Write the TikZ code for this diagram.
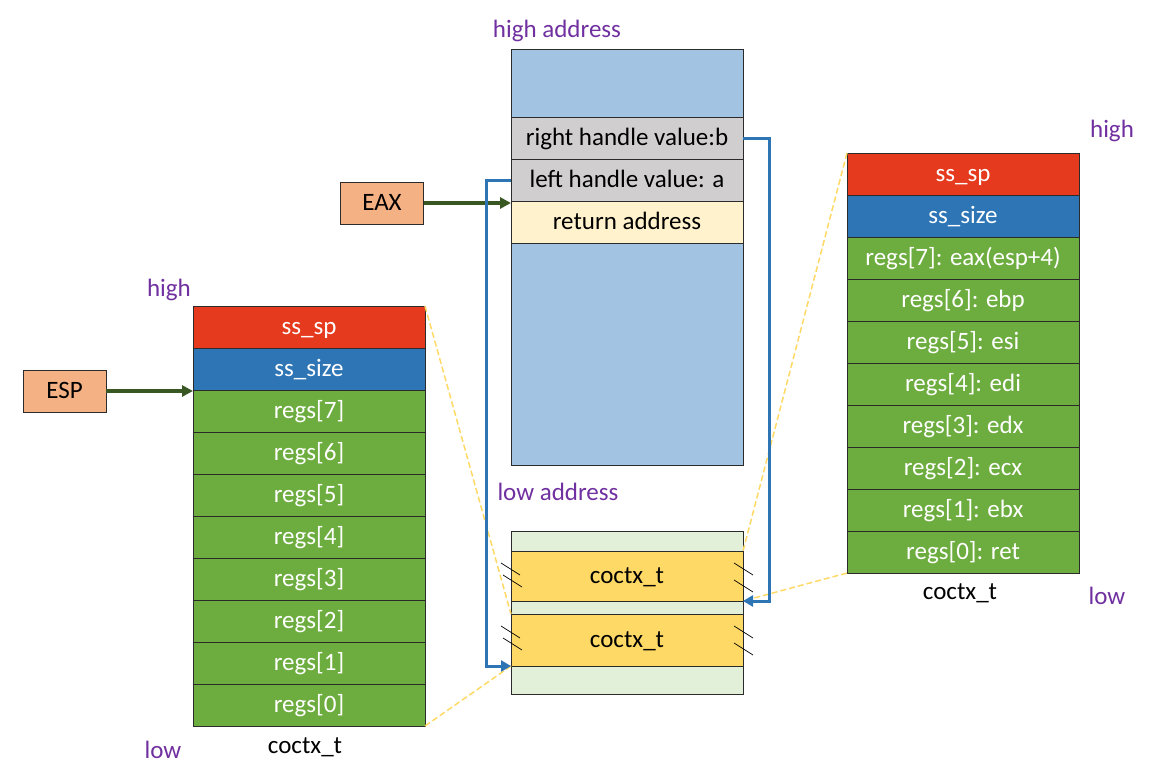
\documentclass[tikz,border=0pt]{standalone}
\usepackage{fontspec}
\setmainfont{Carlito}
\usetikzlibrary{arrows.meta}
\definecolor{cred}{HTML}{E53A1E}
\definecolor{cblue}{HTML}{2E75B6}
\definecolor{cgreen}{HTML}{6DAD3F}
\definecolor{cgray}{HTML}{D0CECE}
\definecolor{ccream}{HTML}{FFF2CC}
\definecolor{cbg}{HTML}{A2C3E2}
\definecolor{clgreen}{HTML}{E2F0D9}
\definecolor{cyellow}{HTML}{FFD966}
\definecolor{corange}{HTML}{F4B183}
\definecolor{carrow}{HTML}{385723}
\definecolor{cpurple}{HTML}{7030A0}
\definecolor{cedge}{HTML}{2B2B2B}
\tikzset{
  cell/.style={draw=cedge, line width=0.8pt, inner sep=0pt, outer sep=0pt, anchor=north west,
    minimum width=232pt, minimum height=42pt, text height=17pt, text depth=2pt,
    font=\fontsize{25}{30}\selectfont},
  wcell/.style={cell, text=white},
  lbl/.style={font=\fontsize{25}{30}\selectfont},
  plbl/.style={lbl, text=cpurple},
  regbox/.style={draw=cedge, line width=0.8pt, fill=corange, inner sep=0pt, outer sep=0pt,
    minimum width=83pt, minimum height=42pt, text height=17pt, text depth=2pt,
    font=\fontsize{25}{30}\selectfont},
  greenarrow/.style={draw=carrow, line width=3.5pt, -{Triangle[length=11pt,width=11pt]}},
  bluearrow/.style={draw=cblue, line width=3pt, -{Triangle[length=10pt,width=11pt]}},
  zoomline/.style={draw=cyellow, line width=1.5pt, dash pattern=on 6pt off 3pt},
  hatch/.style={draw=black, line width=0.7pt}
}
\begin{document}
\begin{tikzpicture}[x=1pt,y=-1pt]
\useasboundingbox (0,0) rectangle (1162,768);
% ---- left stack
\node[wcell, fill=cred] (L0) at (193,306) {ss\_sp};
\node[wcell, fill=cblue] (L1) at (193,348) {ss\_size};
\node[wcell, fill=cgreen] (L2) at (193,390) {regs[7]};
\node[wcell, fill=cgreen] (L3) at (193,432) {regs[6]};
\node[wcell, fill=cgreen] (L4) at (193,474) {regs[5]};
\node[wcell, fill=cgreen] (L5) at (193,516) {regs[4]};
\node[wcell, fill=cgreen] (L6) at (193,558) {regs[3]};
\node[wcell, fill=cgreen] (L7) at (193,600) {regs[2]};
\node[wcell, fill=cgreen] (L8) at (193,642) {regs[1]};
\node[wcell, fill=cgreen] (L9) at (193,684) {regs[0]};
\node[lbl] (Lname) at (305,747) {coctx\_t};
\node[plbl] (Lhigh) at (169,290) {high};
\node[plbl] (Llow) at (163,750) {low};
% ---- right stack
\node[wcell, fill=cred] (R0) at (847,153) {ss\_sp};
\node[wcell, fill=cblue] (R1) at (847,195) {ss\_size};
\node[wcell, fill=cgreen] (R2) at (847,237) {regs[7]: eax(esp+4)};
\node[wcell, fill=cgreen] (R3) at (847,279) {regs[6]: ebp};
\node[wcell, fill=cgreen] (R4) at (847,321) {regs[5]: esi};
\node[wcell, fill=cgreen] (R5) at (847,363) {regs[4]: edi};
\node[wcell, fill=cgreen] (R6) at (847,405) {regs[3]: edx};
\node[wcell, fill=cgreen] (R7) at (847,447) {regs[2]: ecx};
\node[wcell, fill=cgreen] (R8) at (847,489) {regs[1]: ebx};
\node[wcell, fill=cgreen] (R9) at (847,531) {regs[0]: ret};
\node[lbl] (Rname) at (960,593) {coctx\_t};
\node[plbl] (Rhigh) at (1112,131) {high};
\node[plbl] (Rlow) at (1107,596) {low};
% ---- middle stack
\node[cell, fill=cbg, minimum height=416pt] (M) at (511,49) {};
\node[cell, fill=cgray] (rh) at (511,117) {right handle value:b};
\node[cell, fill=cgray] (lh) at (511,159) {left handle value: a};
\node[cell, fill=ccream] (ra) at (511,201) {return address};
\node[plbl] (hiaddr) at (557,31) {high address};
\node[plbl] (loaddr) at (558,492) {low address};
% ---- bottom memory
\node[cell, fill=clgreen, minimum height=163pt] (B) at (511,531) {};
\node[cell, fill=cyellow, minimum height=50pt] (c1) at (511,551) {coctx\_t};
\node[cell, fill=cyellow, minimum height=52pt] (c2) at (511,614) {coctx\_t};
% hatch marks
\foreach \n in {c1,c2}{
  \draw[hatch] ([shift={(-10,12)}]\n.north west) -- ++(19,12);
  \draw[hatch] ([shift={(-8,24)}]\n.north west) -- ++(19,12);
  \draw[hatch] ([shift={(-9,12)}]\n.north east) -- ++(19,12);
  \draw[hatch] ([shift={(-9,29)}]\n.north east) -- ++(19,12);
}
% ---- registers
\node[regbox] (esp) at (64.5,391) {ESP};
\node[regbox] (eax) at (382,203) {EAX};
\draw[greenarrow] (esp.east) -- (esp.east -| L2.west);
\draw[greenarrow] (eax.east) -- (eax.east -| M.west);
% ---- zoom lines
\draw[zoomline] (L0.north east) -- (c2.north west);
\draw[zoomline] (L9.south east) -- (c2.south west);
\draw[zoomline] (R0.north west) -- (c1.north east);
\draw[zoomline] (R9.south west) -- (c1.south east);
% ---- pointers
\draw[bluearrow] (rh.east) -- ++(26,0) |- (c1.south east);
\draw[bluearrow] (lh.west) -- ++(-25,0) |- (c2.south west);
\end{tikzpicture}
\end{document}
